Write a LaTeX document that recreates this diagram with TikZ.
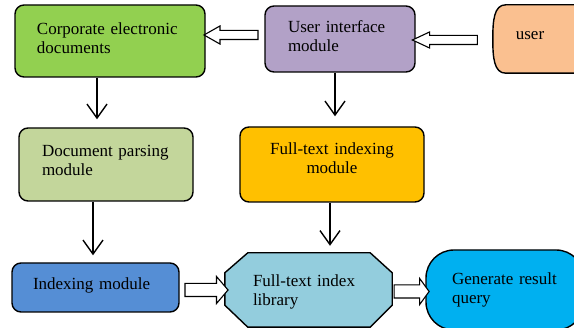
\documentclass[tikz,border=0pt]{standalone}
\usepackage{fontspec}
\setmainfont{Liberation Serif}
\usetikzlibrary{arrows.meta,shapes.arrows,backgrounds,calc}
\definecolor{cgreen}{HTML}{92D050}
\definecolor{cpurple}{HTML}{B2A1C7}
\definecolor{corange}{HTML}{FAC090}
\definecolor{colive}{HTML}{C3D69B}
\definecolor{cgold}{HTML}{FFC000}
\definecolor{cblue}{HTML}{558ED5}
\definecolor{cteal}{HTML}{93CDDD}
\definecolor{ccyan}{HTML}{00B0F0}
\begin{document}
\begin{tikzpicture}[x=1pt,y=-1pt,
  txt/.style={font=\fontsize{17}{19}\selectfont, inner sep=0pt, align=left, text height=12pt},
  box/.style={txt, draw=black, line width=1.4pt, rounded corners=9pt},
  shapeline/.style={draw=black, line width=1.4pt},
  varrow/.style={line width=1.4pt, -{Straight Barb[length=14pt,width=20pt]}},
  blk/.style n args={4}{single arrow, draw=black, fill=white, line width=1.1pt,
    minimum height=#1, inner sep=#2, single arrow head extend=#3,
    single arrow tip angle=#4, anchor=center, shape border rotate=180}
]
\useasboundingbox (0,0) rectangle (574,328);
% nodes
\node[box, fill=cgreen, minimum width=190pt, minimum height=72pt, text width=146pt, text depth=24pt] (corp) at (110,41) {Corporate electronic\\documents};
\node[box, fill=cpurple, minimum width=150pt, minimum height=66pt, text width=104pt, text depth=24pt] (ui) at (340,39) {User interface\\module};
\node[txt, minimum width=74pt, minimum height=68pt, align=center, text depth=10pt] (user) at (530,39) {user};
\node[box, fill=colive, minimum width=174pt, minimum height=73pt, text width=128pt, text depth=27pt] (parse) at (106,164.5) {Document parsing\\module};
\node[box, fill=cgold, minimum width=184pt, minimum height=75pt, text width=150pt, align=center, text depth=31pt] (fti) at (332,164.5) {Full-text indexing\\module};
\node[box, fill=cblue, minimum width=167pt, minimum height=49pt, text width=125pt, text depth=7pt] (idx) at (95.5,287.5) {Indexing module};
\node[txt, minimum width=167pt, minimum height=74pt, text width=111pt, text depth=18pt] (lib) at (308.5,290) {Full-text index\\library};
\node[box, fill=ccyan, rounded corners=28pt, minimum width=158pt, minimum height=80pt, text width=106pt, text depth=22pt] (gen) at (505,290) {Generate result\\query};
% background shapes
\begin{scope}[on background layer]
\draw[shapeline, fill=corange] ([xshift=40pt]user.north east) -- ([xshift=13pt]user.north west)
  .. controls ([xshift=1pt]user.north west) and ([yshift=18pt]user.west) .. (user.west)
  .. controls ([yshift=-18pt]user.west) and ([xshift=1pt]user.south west) .. ([xshift=13pt]user.south west)
  -- ([xshift=40pt]user.south east) -- cycle;
\draw[shapeline, fill=cteal] ([xshift=23pt]lib.north west) -- ([xshift=-22pt]lib.north east)
  -- ([yshift=-20pt]lib.north east) -- ([yshift=22pt]lib.south east)
  -- ([xshift=-22pt]lib.south east) -- ([xshift=23pt]lib.south west)
  -- ([yshift=22pt]lib.south west) -- ([yshift=-20pt]lib.north west) -- cycle;
\end{scope}
% line arrows
\draw[varrow, shorten >=8pt] ([xshift=-13pt]corp.south) -- ([xshift=-9pt]parse.north);
\draw[varrow, shorten >=10pt] ([xshift=-5pt]ui.south) -- ([xshift=3pt]fti.north);
\draw[varrow, shorten >=7pt] ([xshift=-13pt]parse.south) -- ([xshift=-2.5pt]idx.north);
\draw[varrow, shorten >=7pt] ([xshift=-2pt]fti.south) -- ([xshift=21.5pt]lib.north);
% block arrows
\path ([yshift=6pt]corp.east) -- ([yshift=4pt]ui.west) node[midway, blk={54pt}{4pt}{4.5pt}{59}] (a1) {};
\path ([yshift=-1pt]ui.east) -- ([yshift=-1pt]user.west) node[pos=0.442, blk={65pt}{4pt}{3.5pt}{50}] (a2) {};
\path ([yshift=-2.5pt]idx.east) -- (lib.west) node[pos=0.533, blk={43pt}{6pt}{7pt}{99}, shape border rotate=0] (a3) {};
\path ([yshift=-1.5pt]lib.east) -- ([yshift=-1.5pt]gen.west) node[pos=0.515, blk={35pt}{6pt}{6.5pt}{108}, shape border rotate=0] (a4) {};
\end{tikzpicture}
\end{document}
